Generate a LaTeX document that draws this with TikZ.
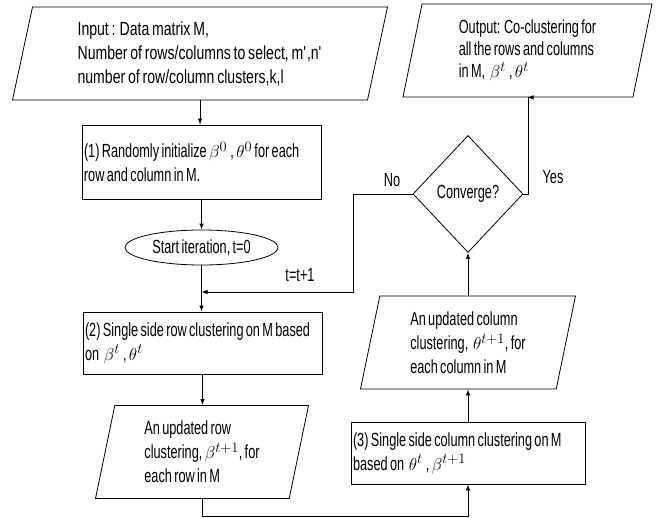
\documentclass[tikz,border=0pt]{standalone}
\usepackage{fontspec}
\setmainfont{Liberation Sans}[FakeStretch=0.67,WordSpace=0.66]
\newfontfamily\widefont{Liberation Sans}[FakeStretch=0.74,WordSpace=0.72]
\usetikzlibrary{shapes.geometric,arrows.meta}
\begin{document}
\begin{tikzpicture}[x=1pt,y=-1pt,
  font=\fontsize{19}{24}\selectfont,
  line width=0.8pt,
  >={Latex[length=6pt,width=4.5pt]},
  every node/.append style={execute at begin node={\spaceskip=0pt\xspaceskip=0pt\relax}},
  proc/.style={draw, rectangle, inner sep=2pt, align=left, text width=#1},
  para/.style={draw, trapezium, trapezium left angle=72.7, trapezium right angle=107.3,
    trapezium stretches body, inner sep=0pt, align=left, minimum height=93},
  term/.style={draw, ellipse, inner sep=0pt, minimum width=153, minimum height=35},
  decide/.style={draw, diamond, inner sep=0pt, minimum width=110, minimum height=117},
  lbl/.style={inner sep=0pt}
]
\useasboundingbox (0,0) rectangle (659,518);

\node[para, minimum width=375, font=\widefont\fontsize{19}{24}\selectfont] (input) at (200,53.5)
  {\mbox{Input : Data matrix M,}\\
   \mbox{Number of rows/columns to select, m\textquotesingle,n\textquotesingle}\\
   \mbox{number of row/column clusters,k,l}};

\node[proc=235, minimum height=74] (box1) at (201.5,162)
  {\mbox{(1) Randomly initialize $\beta^{0}$\,, $\theta^{0}$ for each}\\
   \mbox{row and column in M.}};

\node[term] (start) at (201.5,247.5) {Start iteration, t=0};

\node[proc=235, minimum height=62] (box2) at (202.5,343)
  {\mbox{(2) Single side row clustering on M based}\\
   \mbox{on \ $\beta^{t}$\,, $\theta^{t}$}};

\node[para, minimum width=213] (rowp) at (202,452)
  {An updated row\\ clustering, $\beta^{t+1}$, for\\ each row in M};

\node[proc=230, minimum height=62] (box3) at (468,453)
  {\mbox{(3) Single side column clustering on M}\\
   \mbox{based on \ $\theta^{t}$\,, $\beta^{t+1}$}};

\node[para, minimum width=215] (colp) at (468,342.5)
  {An updated column\\ clustering, \ $\theta^{t+1}$, for\\ each column in M};

\node[decide] (conv) at (468,194) {Converge?};

\node[para, minimum width=249, font=\fontsize{19}{22}\selectfont] (output) at (527.5,50.5)
  {Output: Co-clustering for\\ all the rows and columns\\ in M, \ $\beta^{t}$\,, $\theta^{t}$};

\node[lbl] (no) at (392,180) {No};
\node[lbl] (yes) at (553,177) {Yes};
\node[lbl] (inc) at (300,275) {t=t+1};

\coordinate (nocorner) at (353,292);
\coordinate (join) at (201.5,292);

\draw[->] (input.south) -- (input.south |- box1.north);
\draw[->] (box1.south) -- (box1.south |- start.north);
\draw[->] (start.south) -- (start.south |- box2.north);
\draw[->] (box2.south) -- (box2.south |- rowp.north);
\draw[->] (rowp.south) -- ++(0,17) -| (box3.south);
\draw[->] (box3.north) -- (box3.north |- colp.south);
\draw[->] (colp.north) -- (colp.north |- conv.south);
\draw[->] (conv.east) -- ++(5,0) |- (output.south);
\draw[->] (conv.west) -| (nocorner) -- (join);
\end{tikzpicture}
\end{document}
